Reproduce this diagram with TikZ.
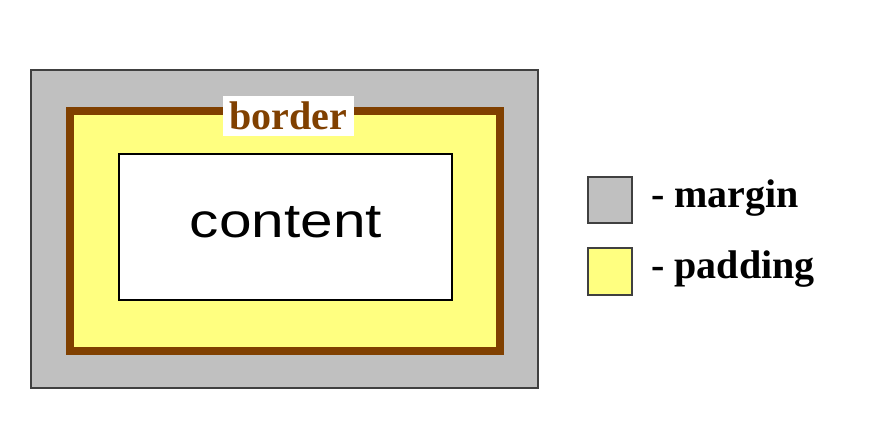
\documentclass[tikz,border=0pt]{standalone}
\usepackage{fontspec}
\setmainfont{Liberation Serif}
\newfontfamily\arialfont{Liberation Sans}
\usepackage{xcolor}
\usepackage{tikz}
\definecolor{margingray}{HTML}{C0C0C0}
\definecolor{paddingyellow}{HTML}{FFFF80}
\definecolor{borderbrown}{HTML}{804000}
\definecolor{edgegray}{HTML}{404040}

\begin{document}
\begin{tikzpicture}[x=1pt,y=-1pt]
\useasboundingbox (0,0) rectangle (881,441);

% Margin
\fill[margingray,draw=edgegray,line width=1.5pt] (31,70) rectangle (538,388);

% Border and padding
\fill[paddingyellow,draw=borderbrown,line width=8pt] (70,111) rectangle (500,351);
\node[fill=white,inner sep=0pt,minimum width=131pt,minimum height=40pt,text=borderbrown,font=\fontsize{40}{40}\selectfont\bfseries] (borderlabel) at (288.5,116) {border};

% Content
\fill[white,draw=black,line width=1.2pt] (119,154) rectangle (452,300);
\node[anchor=base,inner sep=0pt,xscale=1.22,font=\arialfont\fontsize{48}{48}\selectfont] (contentlabel) at (286,237) {content};

% Legend
\fill[margingray,draw=edgegray,line width=1.5pt] (588,177) rectangle (632,223);
\fill[paddingyellow,draw=edgegray,line width=1.5pt] (588,248) rectangle (632,295);
\node[anchor=base west,inner sep=0pt,font=\fontsize{40}{40}\selectfont\bfseries] (marginkey) at (651,207) {- margin};
\node[anchor=base west,inner sep=0pt,font=\fontsize{40}{40}\selectfont\bfseries] (paddingkey) at (651,278) {- padding};
\end{tikzpicture}
\end{document}
